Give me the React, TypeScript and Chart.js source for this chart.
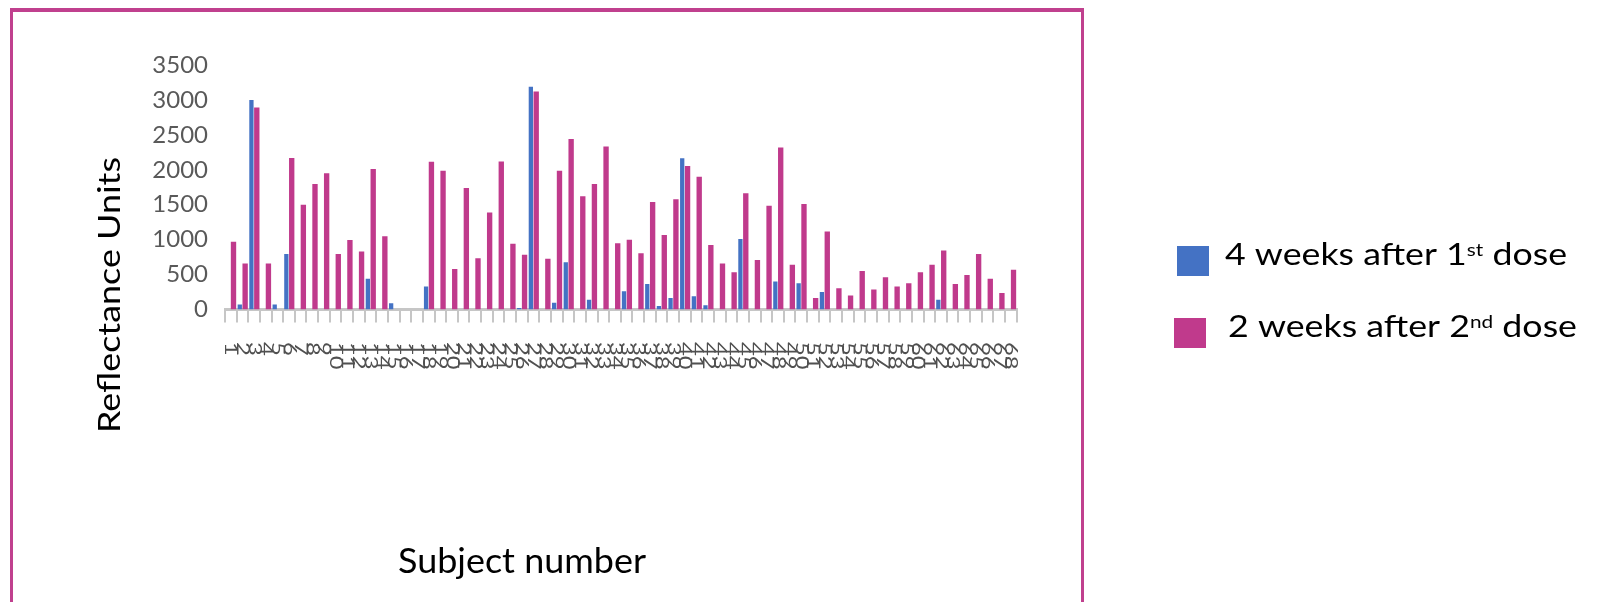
import { useEffect, useRef } from "react";
import { Chart, registerables } from "chart.js";

Chart.register(...registerables);

// Subject numbers along the category axis
const subjects = [
  "1", "2", "3", "4", "5", "6", "7", "8", "9", "10",
  "11", "12", "13", "14", "15", "16", "17", "18", "19", "20",
  "21", "22", "23", "24", "25", "26", "27", "28", "29", "30",
  "31", "32", "33", "34", "35", "36", "37", "38", "39", "40",
  "41", "42", "43", "44", "45", "46", "47", "48", "49", "50",
  "51", "52", "53", "54", "55", "56", "57", "58", "59", "60",
  "61", "62", "63", "64", "65", "66", "67", "68",
];

// Reflectance units, 4 weeks after the first dose
const afterFirstDose = [
  0, 70, 3000, 0, 70, 795, 0, 0, 0, 0,
  0, 0, 440, 0, 90, 0, 0, 330, 0, 0,
  0, 0, 0, 0, 0, 20, 3190, 0, 95, 675,
  0, 140, 0, 0, 260, 0, 365, 50, 165, 2165,
  190, 60, 0, 0, 1010, 0, 0, 400, 0, 375,
  0, 250, 0, 0, 0, 0, 0, 0, 0, 0,
  0, 140, 0, 0, 0, 0, 0, 0,
];

// Reflectance units, 2 weeks after the second dose
const afterSecondDose = [
  970, 660, 2890, 660, 0, 2170, 1500, 1795, 1950, 795,
  995, 830, 2010, 1050, 0, 0, 0, 2115, 1985, 580,
  1740, 735, 1390, 2120, 940, 785, 3120, 725, 1985, 2440,
  1620, 1795, 2335, 950, 1000, 805, 1540, 1065, 1580, 2055,
  1900, 925, 660, 535, 1665, 710, 1485, 2320, 640, 1510,
  165, 1115, 305, 200, 550, 285, 460, 330, 375, 535,
  640, 845, 365, 495, 795, 440, 235, 570,
];

const seriesLabels = ["4 weeks after 1st dose", "2 weeks after 2nd dose"];
const yMin = 0;
const yMax = 3500;
const yStep = 500;

const BLUE = "#4472C4";
const MAGENTA = "#C03A8C";
const FONT = "Lato, 'Open Sans', sans-serif";

const CANVAS_W = 1592;
const CANVAS_H = 594;

// Vertical subject-number labels, reading top to bottom
const verticalTickLabels = {
  id: "verticalTickLabels",
  afterDraw(chart: any) {
    const { ctx } = chart;
    const xs = chart.scales.x;
    ctx.save();
    ctx.fillStyle = "#505050";
    ctx.font = `17px ${FONT}`;
    ctx.textBaseline = "middle";
    ctx.textAlign = "left";
    (chart.data.labels as string[]).forEach((label, i) => {
      ctx.save();
      ctx.translate(xs.getPixelForTick(i), 334);
      ctx.rotate(Math.PI / 2);
      ctx.scale(1.4, 1);
      ctx.fillText(String(label), 0, 0);
      ctx.restore();
    });
    ctx.restore();
  },
};

// Axis captions
const captions = [
  { text: "Reflectance Units", x: 112, y: 287, size: 30, width: 276, rotation: -Math.PI / 2 },
  { text: "Subject number", x: 514, y: 565, size: 34, width: 248, rotation: 0 },
];

const axisCaptions = {
  id: "axisCaptions",
  afterDraw(chart: any) {
    const { ctx } = chart;
    captions.forEach((c) => {
      ctx.save();
      ctx.font = `${c.size}px ${FONT}`;
      ctx.fillStyle = "#000000";
      ctx.textAlign = "center";
      ctx.textBaseline = "alphabetic";
      const w = ctx.measureText(c.text).width;
      ctx.translate(c.x, c.y);
      ctx.rotate(c.rotation);
      ctx.scale(c.width / w, 1);
      ctx.fillText(c.text, 0, 0);
      ctx.restore();
    });
  },
};

// Legend to the right of the framed plot, with ordinal superscripts
const legendRows = [
  { boxX: 1169, boxY: 238, textX: 1217, baseline: 257, width: 342 },
  { boxX: 1166, boxY: 310, textX: 1220, baseline: 329, width: 349 },
];

const sideLegend = {
  id: "sideLegend",
  afterDraw(chart: any) {
    const { ctx } = chart;
    const mainFont = `31px ${FONT}`;
    const supFont = `18px ${FONT}`;
    chart.data.datasets.forEach((ds: any, i: number) => {
      const row = legendRows[i];
      ctx.save();
      ctx.fillStyle = ds.backgroundColor;
      ctx.fillRect(row.boxX, row.boxY, 32, 30);
      const m = /^(.*?\d)(st|nd|rd|th)(.*)$/.exec(ds.label);
      const parts: [string, boolean][] = m
        ? [[m[1], false], [m[2], true], [m[3], false]]
        : [[ds.label, false]];
      let total = 0;
      const widths = parts.map(([t, sup]) => {
        ctx.font = sup ? supFont : mainFont;
        const w = ctx.measureText(t).width;
        total += w;
        return w;
      });
      ctx.translate(row.textX, row.baseline);
      ctx.scale(row.width / total, 1);
      ctx.fillStyle = "#000000";
      ctx.textBaseline = "alphabetic";
      ctx.textAlign = "left";
      let x = 0;
      parts.forEach(([t, sup], k) => {
        ctx.font = sup ? supFont : mainFont;
        ctx.fillText(t, x, sup ? -9 : 0);
        x += widths[k];
      });
      ctx.restore();
    });
  },
};

export default function App() {
  const canvasRef = useRef<HTMLCanvasElement | null>(null);

  useEffect(() => {
    document.documentElement.style.overflow = "hidden";
    const canvas = canvasRef.current;
    if (!canvas) return;
    const chart = new Chart(canvas, {
      type: "bar",
      data: {
        labels: subjects,
        datasets: [
          {
            label: seriesLabels[0],
            data: afterFirstDose,
            backgroundColor: BLUE,
            barPercentage: 0.8,
            categoryPercentage: 0.92,
          },
          {
            label: seriesLabels[1],
            data: afterSecondDose,
            backgroundColor: MAGENTA,
            barPercentage: 1.0,
            categoryPercentage: 0.92,
          },
        ],
      },
      options: {
        animation: false,
        responsive: false,
        devicePixelRatio: 1,
        layout: { padding: { left: 117, top: 57, right: 583.3, bottom: 272.5 } },
        plugins: {
          legend: { display: false },
          tooltip: { enabled: false },
          title: { display: false },
        },
        scales: {
          x: {
            offset: true,
            grid: {
              display: true,
              offset: true,
              drawOnChartArea: false,
              drawTicks: true,
              tickLength: 13,
              color: "#C6C6C6",
              lineWidth: 2,
            },
            border: { display: true, color: "#C6C6C6", width: 3 },
            ticks: { display: false, autoSkip: false },
            afterFit(scale: any) {
              scale.height = 20;
            },
          },
          y: {
            min: yMin,
            max: yMax,
            grid: { display: false, drawTicks: false },
            border: { display: false },
            ticks: {
              stepSize: yStep,
              padding: 17,
              color: "#595959",
              font: { family: FONT, size: 24 },
              callback: (v: any) => String(v),
            },
            afterFit(scale: any) {
              scale.width = 100;
            },
          },
        },
      },
      plugins: [verticalTickLabels, axisCaptions, sideLegend],
    } as any);
    return () => chart.destroy();
  }, []);

  return (
    <div style={{ position: "relative", width: CANVAS_W, height: CANVAS_H, overflow: "hidden" }}>
      <div
        style={{
          position: "absolute",
          left: 2,
          top: 0,
          width: 1068,
          height: 700,
          borderStyle: "solid",
          borderColor: "#C0408E",
          borderWidth: "4px 3px 3px 3px",
        }}
      />
      <canvas
        ref={canvasRef}
        width={CANVAS_W}
        height={CANVAS_H}
        style={{ position: "absolute", left: 0, top: 0 }}
      />
    </div>
  );
}
